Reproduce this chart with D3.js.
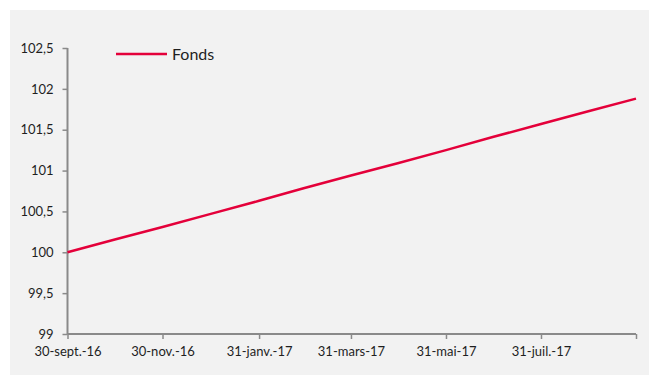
<!DOCTYPE html>
<html>
<head>
<meta charset="utf-8">
<script src="https://cdn.jsdelivr.net/npm/d3@7"></script>
<style>
  html, body { margin: 0; padding: 0; background: #ffffff; }
  svg { display: block; }
</style>
</head>
<body>
<svg id="chart" width="650" height="375"></svg>
<script>
// Fund value at each month end (base 100 on 30 Sep 2016)
const dates = ["2016-09-30","2016-10-31","2016-11-30","2016-12-31","2017-01-31","2017-02-28",
               "2017-03-31","2017-04-30","2017-05-31","2017-06-30","2017-07-31","2017-08-31","2017-09-30"];
const fonds = [100, 100.16, 100.31, 100.47, 100.63, 100.78, 100.94, 101.09, 101.25, 101.41, 101.57, 101.73, 101.88];
const tickDates = ["2016-09-30","2016-11-30","2017-01-31","2017-03-31","2017-05-31","2017-07-31","2017-09-30"];
const tickLabels = ["30-sept.-16","30-nov.-16","31-janv.-17","31-mars-17","31-mai-17","31-juil.-17",""];
const yTicks = [99, 99.5, 100, 100.5, 101, 101.5, 102, 102.5];
const seriesName = "Fonds";

const parse = d3.utcParse("%Y-%m-%d");
const data = dates.map((d, i) => ({ date: parse(d), value: fonds[i] }));

const svg = d3.select("#chart");
const font = "Lato, 'Open Sans', sans-serif";
const axisColor = "#8a8a8a";
const lineColor = "#e4003a";

// chart panel
svg.append("rect").attr("x", 10).attr("y", 10).attr("width", 639).attr("height", 365).attr("fill", "#f2f2f2");

const x = d3.scaleUtc()
  .domain([parse(tickDates[0]), parse(tickDates[tickDates.length - 1])])
  .range([67.5, 636]);
const y = d3.scaleLinear().domain([99, 102.5]).range([334, 48]);

// y axis
const yAxis = svg.append("g")
  .attr("transform", "translate(67.5,0)")
  .call(d3.axisLeft(y).tickValues(yTicks).tickSize(5).tickPadding(9)
    .tickFormat(d => d3.format("~g")(d).replace(".", ",")));
yAxis.select(".domain").attr("stroke", axisColor).attr("stroke-width", 2).attr("d", `M0,${y(102.5)}V${y(99)}`);
yAxis.selectAll(".tick line").attr("stroke", axisColor).attr("stroke-width", 1.5);
yAxis.selectAll(".tick text").attr("fill", "#1f1f1f").style("font-family", font).style("font-size", "13px");

// x axis
const xAxis = svg.append("g")
  .attr("transform", "translate(0,334)")
  .call(d3.axisBottom(x).tickValues(tickDates.map(parse)).tickSize(5).tickPadding(8)
    .tickFormat((d, i) => tickLabels[i]));
xAxis.select(".domain").attr("stroke", axisColor).attr("stroke-width", 2).attr("d", `M${x.range()[0]},0H${x.range()[1]}`);
xAxis.selectAll(".tick line").attr("stroke", axisColor).attr("stroke-width", 1.5);
xAxis.selectAll(".tick text").attr("fill", "#1f1f1f").style("font-family", font).style("font-size", "13px");

// series line
svg.append("path")
  .datum(data)
  .attr("fill", "none")
  .attr("stroke", lineColor)
  .attr("stroke-width", 2.5)
  .attr("d", d3.line().x(d => x(d.date)).y(d => y(d.value)));

// legend
const legend = svg.append("g").attr("transform", "translate(116,54)");
legend.append("line").attr("x1", 0).attr("x2", 51).attr("y1", 0).attr("y2", 0)
  .attr("stroke", lineColor).attr("stroke-width", 2.5);
legend.append("text").attr("x", 56).attr("y", 0).attr("dy", "0.36em")
  .attr("fill", "#1f1f1f").style("font-family", font).style("font-size", "16px").text(seriesName);
</script>
</body>
</html>
